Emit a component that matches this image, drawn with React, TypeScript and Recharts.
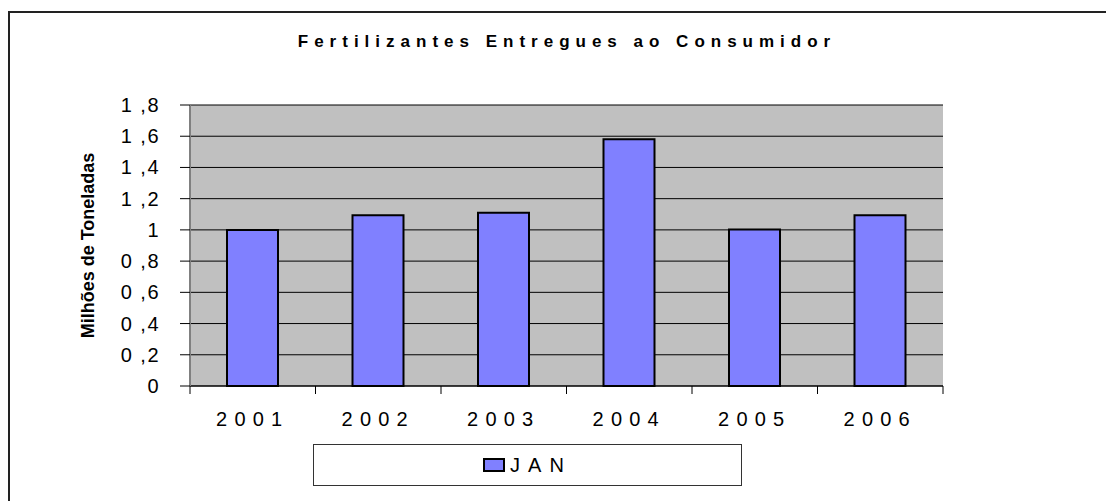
import React from "react";
import { BarChart, Bar, XAxis, YAxis, CartesianGrid, Legend } from "recharts";

// ---- data ----
const categories: string[] = ["2001", "2002", "2003", "2004", "2005", "2006"];
const janValues: number[] = [1.0, 1.094, 1.109, 1.581, 1.002, 1.094];
const yTicks: number[] = [0, 0.2, 0.4, 0.6, 0.8, 1.0, 1.2, 1.4, 1.6, 1.8];
const seriesName = "JAN";
const titleText = "Fertilizantes Entregues ao Consumidor";
const yAxisTitle = "Milhões de Toneladas";

const data = categories.map((c, i) => ({ year: c, jan: janValues[i] }));

// ---- layout ----
const W = 1106;
const H = 501;
const PLOT_LEFT = 190;
const PLOT_RIGHT = 943;
const PLOT_TOP = 105;
const PLOT_BOTTOM = 386;
const X_AXIS_H = 40;
const BAND = (PLOT_RIGHT - PLOT_LEFT) / categories.length;
const FONT = "'Liberation Sans', Arial, Helvetica, sans-serif";

const fmtY = (v: number) => {
  const r = Math.round(v * 10) / 10;
  if (Number.isInteger(r)) return String(r);
  return r.toFixed(1).replace(".", " ,");
};

const XTick = (props: any) => {
  const { x, payload, index } = props;
  const last = index === categories.length - 1;
  return (
    <g>
      <line x1={x - BAND / 2} x2={x - BAND / 2} y1={PLOT_BOTTOM} y2={PLOT_BOTTOM + 8} stroke="#000" strokeWidth={1} />
      {last && (
        <line x1={x + BAND / 2} x2={x + BAND / 2} y1={PLOT_BOTTOM} y2={PLOT_BOTTOM + 8} stroke="#000" strokeWidth={1} />
      )}
      <text
        x={x}
        y={426}
        textAnchor="middle"
        fontFamily={FONT}
        fontSize={20}
        letterSpacing={7.2}
        fill="#000"
      >
        {payload.value}
      </text>
    </g>
  );
};

const YTick = (props: any) => {
  const { x, y, payload } = props;
  return (
    <text
      x={x}
      y={y + 7}
      textAnchor="end"
      fontFamily={FONT}
      fontSize={20}
      letterSpacing={1.5}
      fill="#000"
    >
      {fmtY(payload.value)}
    </text>
  );
};

const LegendBox = (props: any) => {
  const items = props.payload || [];
  return (
    <div
      style={{
        width: 427,
        height: 40,
        border: "1px solid #333",
        background: "#fff",
        display: "flex",
        alignItems: "center",
        justifyContent: "center",
        boxSizing: "content-box",
      }}
    >
      {items.map((it: any) => (
        <div key={it.value} style={{ display: "flex", alignItems: "center" }}>
          <div
            style={{
              width: 18,
              height: 10,
              background: "#8080FF",
              border: "2px solid #000",
              marginRight: 5,
            }}
          />
          <span
            style={{
              fontFamily: FONT,
              fontSize: 20,
              letterSpacing: 8,
              color: "#000",
              lineHeight: "20px",
            }}
          >
            {it.value}
          </span>
        </div>
      ))}
    </div>
  );
};

export default function App() {
  return (
    <div
      style={{
        position: "fixed",
        left: 0,
        top: 0,
        width: W,
        height: H,
        overflow: "hidden",
        background: "#fff",
      }}
    >
      <div
        style={{
          position: "absolute",
          left: 8,
          top: 11,
          width: 1200,
          height: 600,
          border: "2px solid #222",
          boxSizing: "border-box",
        }}
      />
      <div style={{ position: "absolute", left: 0, top: 0 }}>
        <BarChart
          width={W}
          height={H}
          data={data}
          margin={{ top: PLOT_TOP, right: W - PLOT_RIGHT, left: 0, bottom: H - PLOT_BOTTOM - X_AXIS_H }}
          barSize={51}
        >
          <CartesianGrid fill="#C0C0C0" vertical={false} stroke="#000" strokeWidth={1} fillOpacity={1} />
          <XAxis
            dataKey="year"
            height={X_AXIS_H}
            axisLine={{ stroke: "#000", strokeWidth: 1 }}
            tickLine={false}
            tick={<XTick />}
            interval={0}
          />
          <XAxis
            xAxisId="top"
            dataKey="year"
            orientation="top"
            height={0}
            axisLine={{ stroke: "#808080", strokeWidth: 2 }}
            tickLine={false}
            tick={false}
          />
          <YAxis
            width={PLOT_LEFT}
            domain={[0, 1.8]}
            ticks={yTicks}
            interval={0}
            axisLine={{ stroke: "#808080", strokeWidth: 2 }}
            tickLine={{ stroke: "#000", strokeWidth: 1 }}
            tickSize={10}
            tickMargin={20}
            tick={<YTick />}
          />
          <YAxis
            yAxisId="r"
            orientation="right"
            width={0}
            domain={[0, 1.8]}
            axisLine={{ stroke: "#808080", strokeWidth: 2 }}
            tickLine={false}
            tick={false}
          />
          <Bar
            dataKey="jan"
            name={seriesName}
            fill="#8080FF"
            stroke="#000"
            strokeWidth={2}
            isAnimationActive={false}
          />
          <Legend
            layout="horizontal"
            verticalAlign="middle"
            align="center"
            content={<LegendBox />}
            wrapperStyle={{ position: "absolute", left: 313, top: 444, width: 429, height: 42 }}
          />
          <text
            x={567}
            y={47}
            textAnchor="middle"
            fontFamily={FONT}
            fontSize={17}
            fontWeight="bold"
            letterSpacing={6}
            fill="#000"
          >
            {titleText}
          </text>
          <text
            transform="rotate(-90)"
            x={-(PLOT_TOP + PLOT_BOTTOM) / 2}
            y={94}
            textAnchor="middle"
            fontFamily={FONT}
            fontSize={18}
            fontWeight="bold"
            fill="#000"
          >
            {yAxisTitle}
          </text>
        </BarChart>
      </div>
    </div>
  );
}
